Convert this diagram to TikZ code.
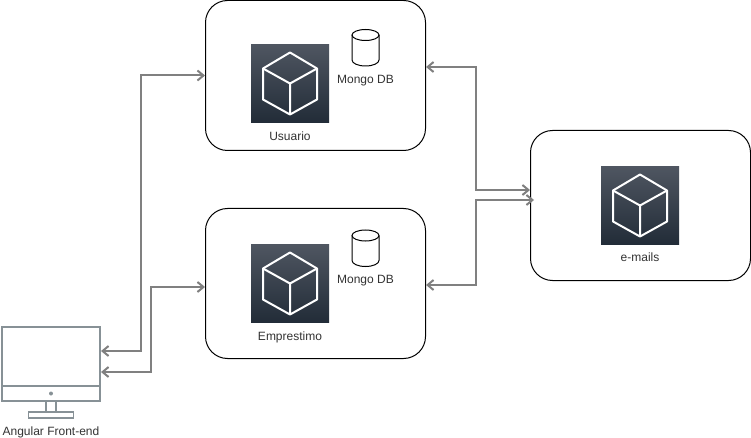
\documentclass[tikz,border=0pt]{standalone}
\usepackage{fontspec}
\setmainfont{Liberation Sans}
\usetikzlibrary{arrows.meta}
\usetikzlibrary{positioning}
\definecolor{linkgray}{HTML}{808080}
\definecolor{screengray}{HTML}{879196}
\definecolor{icontop}{HTML}{4F5661}
\definecolor{iconbottom}{HTML}{222C38}
\definecolor{labelgray}{HTML}{333333}
\tikzset{
	service/.style={draw=black,line width=1pt,fill=white,rounded corners=22pt,minimum width=220pt,minimum height=150pt,inner sep=0pt},
	icon/.style={minimum size=78pt,inner sep=0pt,top color=icontop,bottom color=iconbottom},
	caption/.style={text=labelgray,font=\fontsize{12}{14}\selectfont,inner sep=0pt},
	mongo/.style={minimum width=27pt,minimum height=36pt,inner sep=0pt},
	link/.style={draw=linkgray,line width=2pt,{Straight Barb[length=6pt,width=10pt]}-{Straight Barb[length=6pt,width=10pt]}},
	screen/.style={draw=screengray,line width=1.6pt,fill=white,inner sep=0pt},
	cube/.pic={
		\draw[white,line width=2pt,line join=round] (0,-31) -- (27,-15) -- (27,16) -- (0,31) -- (-27,16) -- (-27,-15) -- cycle;
		\draw[white,line width=2pt,line join=round] (-27,-15) -- (0,0) -- (27,-15) (0,0) -- (0,31);
	},
	drum/.pic={
		\draw[black,line width=1pt] (-13.5,-12.5) -- (-13.5,12.5) arc[start angle=180,end angle=0,x radius=13.5,y radius=6] -- (13.5,-12.5);
		\draw[black,line width=1pt] (0,-12.5) ellipse[x radius=13.5,y radius=5.5];
	}
}
\begin{document}
\begin{tikzpicture}[x=1pt,y=-1pt]
	\useasboundingbox (0,0) rectangle (751,438);

	% services
	\node[service] (U) at (315.5,75.5) {};
	\node[service] (E) at (315.5,283.5) {};
	\node[service] (M) at (640.5,205.5) {};

	\node[icon] (UI) at (290,83.5) {};
	\node[icon] (EI) at (290,283.5) {};
	\node[icon] (MI) at (640,205.5) {};
	\pic at (UI.center) {cube};
	\pic at (EI.center) {cube};
	\pic at (MI.center) {cube};

	\node[caption] (UL) [below=9pt of UI] {Usuario};
	\node[caption] (EL) [below=9pt of EI] {Emprestimo};
	\node[caption] (ML) [below=7.5pt of MI] {e-mails};

	% databases
	\node[mongo] (UD) at (365.5,47.5) {};
	\node[mongo] (ED) at (365.5,248) {};
	\pic at (UD.center) {drum};
	\pic at (ED.center) {drum};
	\node[caption] (UDL) [below=9pt of UD] {Mongo DB};
	\node[caption] (EDL) [below=8.5pt of ED] {Mongo DB};

	% front-end
	\node[screen,minimum width=98pt,minimum height=59pt] (S) at (51,356.5) {};
	\node[screen,minimum width=98pt,minimum height=15pt] (B) [below=-1.6pt of S] {};
	\node[circle,fill=screengray,minimum size=4pt,inner sep=0pt] (D) at (B.center) {};
	\node[screen,minimum width=10pt,minimum height=11pt] (N) [below=-1.6pt of B] {};
	\node[screen,minimum width=45pt,minimum height=6pt] (F) [below=-1.6pt of N] {};
	\node[caption] (SL) [below=8pt of F] {Angular Front-end};

	\coordinate (Sa) at (101,351);
	\coordinate (Sb) at (101,372);
	\coordinate (Ma) at (530,190);
	\coordinate (Mb) at (534,200);

	% links
	\draw[link] (U.west) -- ++(-64,0) |- (Sa);
	\draw[link] (E.west |- 0,287) -- ++(-54,0) |- (Sb);
	\draw[link] (U.east |- 0,67) -- ++(50,0) |- (Ma);
	\draw[link] (E.east |- 0,285) -- ++(50,0) |- (Mb);
\end{tikzpicture}
\end{document}
